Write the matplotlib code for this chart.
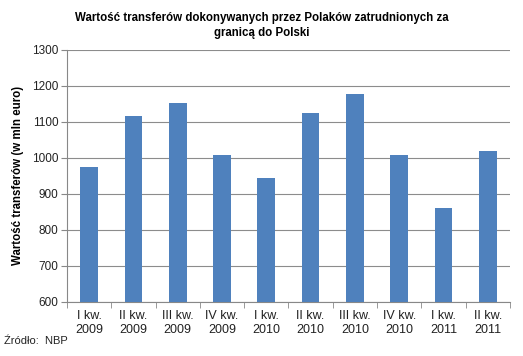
import numpy as np
import matplotlib.pyplot as plt

plt.rcParams['font.family'] = ['Liberation Sans', 'DejaVu Sans']

quarters = ['I kw.\n2009', 'II kw.\n2009', 'III kw.\n2009', 'IV kw.\n2009',
            'I kw.\n2010', 'II kw.\n2010', 'III kw.\n2010', 'IV kw.\n2010',
            'I kw.\n2011', 'II kw.\n2011']
transfers = [975, 1117, 1153, 1008, 945, 1125, 1176, 1008, 861, 1020]
yticks = [600, 700, 800, 900, 1000, 1100, 1200, 1300]

fig = plt.figure(figsize=(5.23, 3.56), dpi=100)
ax = fig.add_axes([0.128, 0.152, 0.847, 0.708])

x = np.arange(len(quarters))
ax.bar(x, np.array(transfers) - 600, bottom=600, width=0.4, color='#4F81BD', zorder=3)

ax.set_xlim(-0.5, len(quarters) - 0.5)
ax.set_ylim(600, 1300)
ax.set_yticks(yticks)
ax.set_xticks(x)
ax.set_xticklabels(quarters, fontsize=9, color='#222222', linespacing=1.2)
ax.set_xticks(np.arange(-0.5, len(quarters), 1), minor=True)
ax.tick_params(axis='x', which='major', length=0, pad=6)
ax.tick_params(axis='x', which='minor', length=4, color='#888888', direction='out')
ax.tick_params(axis='y', length=4, color='#888888', labelsize=8.5, labelcolor='#222222', pad=2)

ax.grid(axis='y', color='#8c8c8c', linewidth=0.8, zorder=0)
for side in ['top', 'right']:
    ax.spines[side].set_visible(False)
for side in ['left', 'bottom']:
    ax.spines[side].set_color('#888888')

ax.set_ylabel('Wartość transferów (w mln euro)', fontsize=8.3, fontweight='bold', labelpad=6)
fig.text(0.50, 0.965, 'Wartość transferów dokonywanych przez Polaków zatrudnionych za\ngranicą do Polski',
         ha='center', va='top', fontsize=8.3, fontweight='bold', linespacing=1.3)
fig.text(0.008, 0.035, 'Źródło:  NBP', fontsize=8, color='#222222')

fig.savefig('out.png', dpi=100)
